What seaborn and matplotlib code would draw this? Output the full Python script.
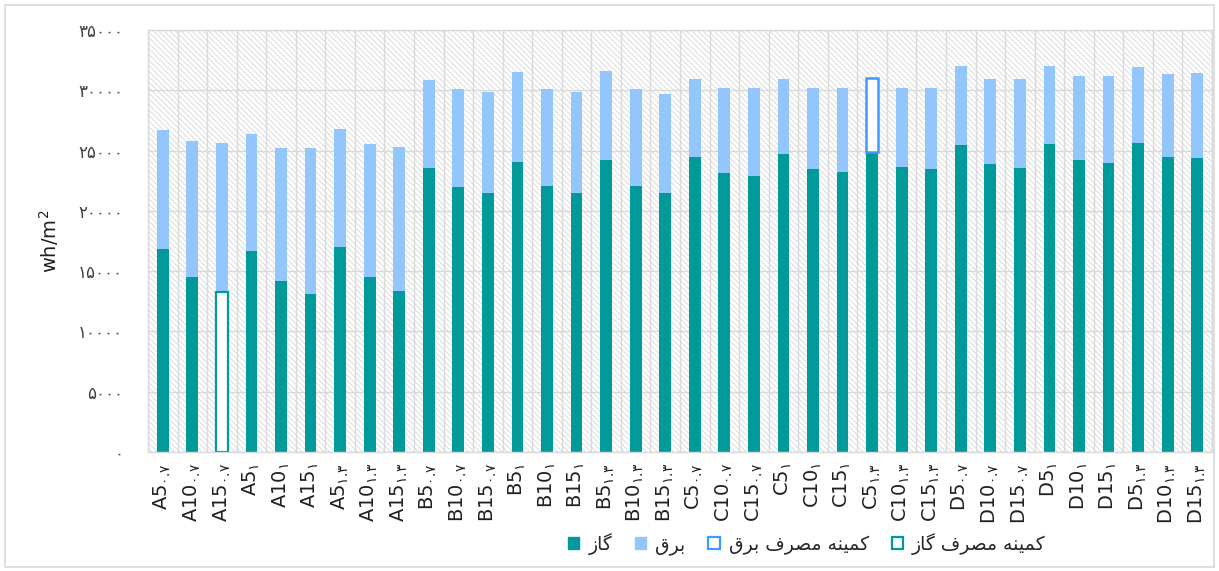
import numpy as np
import pandas as pd
import matplotlib
matplotlib.use("Agg")
import matplotlib.pyplot as plt
from matplotlib.patches import Patch, Rectangle
import seaborn as sns

# ---- data -------------------------------------------------------------
groups = ["A", "B", "C", "D"]
wwr = ["5", "10", "15"]
u_values = ["۰.۷", "۱", "۱.۳"]

gas = [16840, 14490, 13270, 16640, 14180, 13100, 17030, 14490, 13330,
       23530, 21950, 21510, 24080, 22040, 21510, 24220, 22040, 21510,
       24490, 23110, 22890, 24690, 23450, 23200, 24850, 23670, 23450,
       25430, 23860, 23560, 25550, 24190, 23970, 25660, 24490, 24380]
electricity = [9870, 11280, 12390, 9760, 11030, 12110, 9790, 11060, 12000,
               7320, 8130, 8380, 7410, 8040, 8380, 7380, 8040, 8180,
               6450, 7110, 7300, 6250, 6740, 6990, 6140, 6550, 6770,
               6610, 7100, 7400, 6490, 7000, 7220, 6270, 6890, 7020]

min_gas_idx = 2     # A15, U=0.7
min_elec_idx = 24   # C5, U=1.3

y_ticks = [0, 5000, 10000, 15000, 20000, 25000, 30000, 35000]

label_gas = "گاز"
label_elec = "برق"
label_min_elec = "کمینه مصرف برق"
label_min_gas = "کمینه مصرف گاز"
y_label = "wh/m$^2$"

TEAL = "#009a9a"
LIGHT_BLUE = "#94c6fe"
BLUE_EDGE = "#3d9bff"
GRID = "#d9d9d9"

# ---- Persian text helpers -------------------------------------------
FORMS = {
    "ا": ("\uFE8D", "\uFE8E", None, None),
    "ب": ("\uFE8F", "\uFE90", "\uFE91", "\uFE92"),
    "ر": ("\uFEAD", "\uFEAE", None, None),
    "ز": ("\uFEAF", "\uFEB0", None, None),
    "ص": ("\uFEB9", "\uFEBA", "\uFEBB", "\uFEBC"),
    "ف": ("\uFED1", "\uFED2", "\uFED3", "\uFED4"),
    "ق": ("\uFED5", "\uFED6", "\uFED7", "\uFED8"),
    "م": ("\uFEE1", "\uFEE2", "\uFEE3", "\uFEE4"),
    "ن": ("\uFEE5", "\uFEE6", "\uFEE7", "\uFEE8"),
    "ه": ("\uFEE9", "\uFEEA", "\uFEEB", "\uFEEC"),
    "ک": ("\uFB8E", "\uFB8F", "\uFB90", "\uFB91"),
    "گ": ("\uFB92", "\uFB93", "\uFB94", "\uFB95"),
    "ی": ("\uFBFC", "\uFBFD", "\uFBFE", "\uFBFF"),
}
RIGHT_JOIN_ONLY = set("اآدذرزژو")


def rtl(text):
    """Pick contextual glyph forms and return the string in visual order."""
    out = []
    for i, c in enumerate(text):
        if c not in FORMS:
            out.append(c)
            continue
        prev = text[i - 1] if i > 0 else None
        nxt = text[i + 1] if i + 1 < len(text) else None
        join_prev = prev in FORMS and prev not in RIGHT_JOIN_ONLY
        join_next = nxt in FORMS and c not in RIGHT_JOIN_ONLY
        iso, fin, ini, med = FORMS[c]
        if join_prev and join_next:
            out.append(med)
        elif join_prev:
            out.append(fin)
        elif join_next:
            out.append(ini)
        else:
            out.append(iso)
    return "".join(reversed(out))


PERSIAN_DIGITS = str.maketrans("0123456789", "۰۱۲۳۴۵۶۷۸۹")


def fa_num(v):
    return f"{int(v)}".translate(PERSIAN_DIGITS)


# ---- table -------------------------------------------------------------
keys, tick_labels = [], []
for g in groups:
    for u in u_values:
        for w in wwr:
            keys.append(f"{g}{w}_{u}")
            tick_labels.append(f"{g}{w}" + r"$_{\mathrm{" + u + r"}}$")

df = pd.DataFrame({"case": keys, "gas": gas, "electricity": electricity})
df["total"] = df["gas"] + df["electricity"]

# ---- figure --------------------------------------------------------------
sns.set_style("white")
plt.rcParams["font.family"] = ["DejaVu Sans"]
plt.rcParams["mathtext.fontset"] = "dejavusans"
plt.rcParams["hatch.linewidth"] = 0.6

fig = plt.figure(figsize=(12.19, 5.71), dpi=100)
ax = fig.add_axes([148 / 1219, 119 / 571, 1064 / 1219, 422 / 571])

# stacked bars: full height in light blue, gas drawn over it
sns.barplot(data=df, x="case", y="total", order=keys, color=LIGHT_BLUE,
            width=0.4, saturation=1, linewidth=0, ax=ax)
sns.barplot(data=df, x="case", y="gas", order=keys, color=TEAL,
            width=0.4, saturation=1, linewidth=0, ax=ax)

n = len(keys)
total_bars = ax.patches[:n]
gas_bars = ax.patches[n:2 * n]

# minimum gas: hollow gas segment
gb = gas_bars[min_gas_idx]
gb.set_facecolor("white")
gb.set_edgecolor(TEAL)
gb.set_linewidth(1.6)

# minimum electricity: hollow electricity segment
eb = total_bars[min_elec_idx]
eb.set_y(gas[min_elec_idx])
eb.set_height(electricity[min_elec_idx])
eb.set_facecolor("white")
eb.set_edgecolor(BLUE_EDGE)
eb.set_linewidth(1.8)
eb.set_zorder(3)

# hatched plot-area background
ax.add_patch(Rectangle((0, 0), 1, 1, transform=ax.transAxes, facecolor="white",
                       edgecolor="#d6d6d6", linewidth=0, hatch="\\" * 6,
                       zorder=0.1))

ax.set_xlim(-0.5, n - 0.5)
ax.set_ylim(0, 35000)
ax.set_yticks(y_ticks)
ax.set_yticklabels([fa_num(v) for v in y_ticks], fontsize=12, color="#404040")
ax.set_xticks(range(n))
ax.set_xticklabels(tick_labels, rotation=90, fontsize=14, color="#202020")
ax.set_xticks(np.arange(-0.5, n, 1), minor=True)
ax.tick_params(axis="y", length=0, pad=18)
ax.tick_params(axis="x", which="both", length=0, pad=8)

ax.set_axisbelow(True)
ax.grid(axis="y", which="major", color=GRID, linewidth=1)
ax.grid(axis="x", which="minor", color=GRID, linewidth=1)
ax.grid(axis="x", which="major", visible=False)
for s in ax.spines.values():
    s.set_color(GRID)
    s.set_linewidth(1)

ax.set_xlabel("")
ax.set_ylabel(y_label, fontsize=14, color="#202020")
ax.yaxis.set_label_coords(-0.082, 0.5)

handles = [
    Patch(facecolor=TEAL, edgecolor=TEAL),
    Patch(facecolor=LIGHT_BLUE, edgecolor=LIGHT_BLUE),
    Patch(facecolor="white", edgecolor=BLUE_EDGE, linewidth=1.6),
    Patch(facecolor="white", edgecolor=TEAL, linewidth=1.6),
]
labels = [rtl(label_gas), rtl(label_elec), rtl(label_min_elec), rtl(label_min_gas)]
fig.legend(handles, labels, loc="center left", bbox_to_anchor=(568 / 1219, 27 / 571),
           ncol=4, frameon=False, fontsize=13.5, handlelength=0.6, handleheight=0.6,
           handletextpad=0.5, columnspacing=1.2, borderaxespad=0, borderpad=0)

# outer chart frame
fig.add_artist(Rectangle((5 / 1219, 4 / 571), 1209 / 1219, 562 / 571,
                         transform=fig.transFigure, facecolor="none",
                         edgecolor="#d9d9d9", linewidth=1.2))

fig.savefig("out.png", dpi=100)
